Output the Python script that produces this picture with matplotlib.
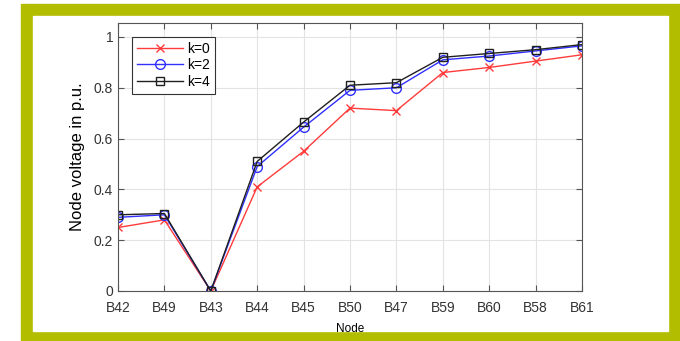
import matplotlib
matplotlib.use('Agg')
import matplotlib.pyplot as plt
from matplotlib.patches import Rectangle
import numpy as np

plt.rcParams['font.family'] = ['Liberation Sans', 'DejaVu Sans']

nodes = ['B42', 'B49', 'B43', 'B44', 'B45', 'B50', 'B47', 'B59', 'B60', 'B58', 'B61']
v_k0 = [0.25, 0.28, 0.0, 0.41, 0.55, 0.72, 0.71, 0.86, 0.88, 0.905, 0.93]
v_k2 = [0.29, 0.30, 0.0, 0.49, 0.645, 0.79, 0.80, 0.91, 0.925, 0.945, 0.965]
v_k4 = [0.30, 0.305, 0.0, 0.51, 0.665, 0.81, 0.82, 0.92, 0.935, 0.95, 0.97]

W, H = 680, 341
fig = plt.figure(figsize=(W / 100, H / 100), dpi=100)

# olive frame with white panel inside, kept behind the axes
fig.patches.append(Rectangle((21 / W, 0), 1 - 21 / W, (H - 4) / H,
                             transform=fig.transFigure, color='#b3bd00', zorder=-2))
fig.patches.append(Rectangle((33 / W, 10 / H), (668 - 33) / W, (331 - 16) / H,
                             transform=fig.transFigure, color='white', zorder=-1))

ax = fig.add_axes([118 / W, 50 / H, 464 / W, 268 / H])
x = np.arange(len(nodes))
ax.plot(x, v_k0, color='#ff3b3b', marker='x', markersize=6, lw=1, label='k=0')
ax.plot(x, v_k2, color='#3030ff', marker='o', markersize=7, mfc='none', lw=1, label='k=2')
ax.plot(x, v_k4, color='#202020', marker='s', markersize=6, mfc='none', lw=1, label='k=4')

ax.set_xlim(0, len(nodes) - 1)
ax.set_ylim(0, 1.055)
ax.set_xticks(x)
ax.set_xticklabels(nodes)
ax.set_yticks([0, 0.2, 0.4, 0.6, 0.8, 1])
ax.set_yticklabels(['0', '0.2', '0.4', '0.6', '0.8', '1'])
ax.grid(True, color='#e3e3e3', lw=0.8)
ax.set_axisbelow(True)
ax.tick_params(direction='in', top=True, right=True, length=4, width=0.8,
               colors='#555555', labelcolor='#333333', labelsize=10)
ax.tick_params(axis='x', pad=7)
for s in ax.spines.values():
    s.set_color('#555555')
    s.set_linewidth(0.8)

ax.set_xlabel('Node', fontsize=8.5, labelpad=6)
ax.set_ylabel('Node voltage in p.u.', fontsize=12, labelpad=6)

leg = ax.legend(loc='upper left', bbox_to_anchor=(0.015, 0.975), fontsize=10,
                fancybox=False, framealpha=1, edgecolor='#333333',
                handlelength=3.3, borderpad=0.35, labelspacing=0.2, handletextpad=0.3)
leg.get_frame().set_linewidth(0.8)

fig.savefig('out.png', dpi=100)
